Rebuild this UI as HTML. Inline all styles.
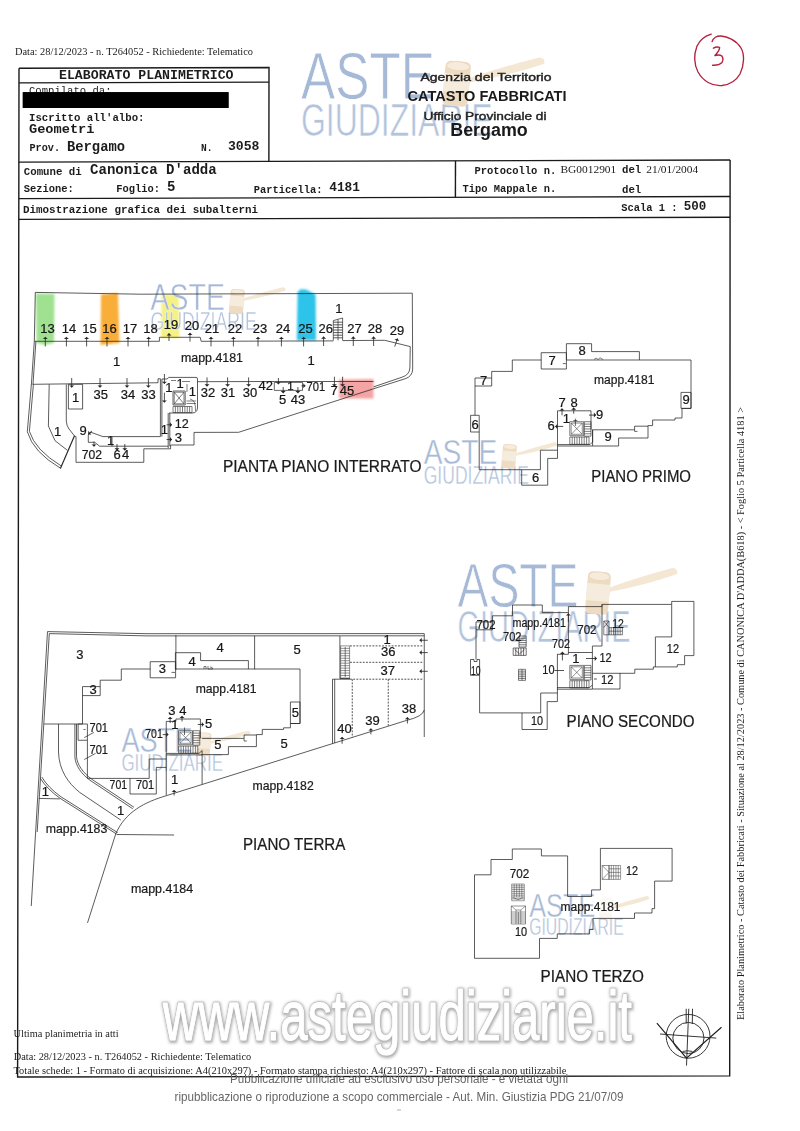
<!DOCTYPE html>
<html><head><meta charset="utf-8"><title>Elaborato Planimetrico</title>
<style>html,body{margin:0;padding:0;background:#fff;}body{width:800px;height:1131px;overflow:hidden;font-family:"Liberation Sans",sans-serif;}svg{display:block;}</style>
</head><body>
<svg width="800" height="1131" viewBox="0 0 800 1131">
<defs><filter id="blur1" x="-5%" y="-20%" width="110%" height="140%"><feGaussianBlur stdDeviation="1.6"/></filter><filter id="hl" x="-10%" y="-10%" width="120%" height="120%"><feGaussianBlur stdDeviation="0.9"/></filter></defs>
<rect x="0" y="0" width="800" height="1131" fill="#ffffff"/>
<g filter="url(#hl)">
<path d="M36 293.5 L54.5 294 L54 343 L45 345 L36.5 343 Z" fill="#8fdc7e" opacity="0.85"/>
<path d="M101 294.5 L118 293 L119.5 343 L100.5 345 Z" fill="#f7a524" opacity="0.9"/>
<path d="M161.5 295 L178.5 294 L179.5 338 L161 338 Z" fill="#f3ee6c" opacity="0.85"/>
<path d="M296.8 340.3 L297.6 292 L300.5 289.3 L306 289.6 L315.6 294.5 L316 340.3 Z" fill="#22c0e8" opacity="0.95"/>
<path d="M339 379.5 L373.5 379 L373.5 398.5 L339 398.5 Z" fill="#f39a9a" opacity="0.9"/>
</g>
<g>
<text x="301.00" y="99.00" font-family="'Liberation Sans', sans-serif" font-size="66.86" fill="#a6b9d6" stroke="#fff" stroke-width="0.80" textLength="134.00" lengthAdjust="spacingAndGlyphs">ASTE</text>
<text x="301.00" y="135.80" font-family="'Liberation Sans', sans-serif" font-size="46.80" fill="#b2c3dc" stroke="#fff" stroke-width="0.66" textLength="191.62" lengthAdjust="spacingAndGlyphs">GIUDIZIARIE</text>
<g transform="translate(301.00 53.00) scale(1.1074 1.0698)">
<path d="M150.5 28 L151.5 23.5 Q185 12 215 4.2 Q221 4.6 219.6 10 Q190 20.5 150.5 28 Z" fill="#f4e7d4"/>
<g transform="translate(140.5 28.75) rotate(5)" opacity="1.0">
<rect x="-11.5" y="-21" width="23" height="42" rx="5" fill="#eedcc2"/>
<rect x="-11.5" y="-9" width="23" height="17" fill="#f6ecdd"/>
<ellipse cx="0" cy="-16.5" rx="10.5" ry="4.2" fill="#f7ecdc" stroke="#ead7bc" stroke-width="0.8"/>
</g>
</g>
</g>
<g>
<text x="150.60" y="309.70" font-family="'Liberation Sans', sans-serif" font-size="36.34" fill="#a6b9d6" stroke="#fff" stroke-width="0.44" textLength="74.30" lengthAdjust="spacingAndGlyphs">ASTE</text>
<text x="150.60" y="329.70" font-family="'Liberation Sans', sans-serif" font-size="25.44" fill="#b2c3dc" stroke="#fff" stroke-width="0.36" textLength="106.25" lengthAdjust="spacingAndGlyphs">GIUDIZIARIE</text>
<g transform="translate(150.60 284.70) scale(0.6140 0.5814)">
<path d="M150.5 28 L151.5 23.5 Q185 12 215 4.2 Q221 4.6 219.6 10 Q190 20.5 150.5 28 Z" fill="#f4e7d4"/>
<g transform="translate(140.5 28.75) rotate(5)" opacity="1.0">
<rect x="-11.5" y="-21" width="23" height="42" rx="5" fill="#eedcc2"/>
<rect x="-11.5" y="-9" width="23" height="17" fill="#f6ecdd"/>
<ellipse cx="0" cy="-16.5" rx="10.5" ry="4.2" fill="#f7ecdc" stroke="#ead7bc" stroke-width="0.8"/>
</g>
</g>
</g>
<g>
<text x="423.75" y="464.40" font-family="'Liberation Sans', sans-serif" font-size="35.61" fill="#a6b9d6" stroke="#fff" stroke-width="0.43" textLength="73.50" lengthAdjust="spacingAndGlyphs">ASTE</text>
<text x="423.75" y="484.00" font-family="'Liberation Sans', sans-serif" font-size="24.93" fill="#b2c3dc" stroke="#fff" stroke-width="0.35" textLength="105.10" lengthAdjust="spacingAndGlyphs">GIUDIZIARIE</text>
<g transform="translate(423.75 439.90) scale(0.6074 0.5698)">
<path d="M150.5 28 L151.5 23.5 Q185 12 215 4.2 Q221 4.6 219.6 10 Q190 20.5 150.5 28 Z" fill="#f4e7d4"/>
<g transform="translate(140.5 28.75) rotate(5)" opacity="1.0">
<rect x="-11.5" y="-21" width="23" height="42" rx="5" fill="#eedcc2"/>
<rect x="-11.5" y="-9" width="23" height="17" fill="#f6ecdd"/>
<ellipse cx="0" cy="-16.5" rx="10.5" ry="4.2" fill="#f7ecdc" stroke="#ead7bc" stroke-width="0.8"/>
</g>
</g>
</g>
<g>
<text x="457.50" y="607.40" font-family="'Liberation Sans', sans-serif" font-size="63.37" fill="#a6b9d6" stroke="#fff" stroke-width="0.76" textLength="121.00" lengthAdjust="spacingAndGlyphs">ASTE</text>
<text x="457.50" y="642.28" font-family="'Liberation Sans', sans-serif" font-size="44.36" fill="#b2c3dc" stroke="#fff" stroke-width="0.62" textLength="173.03" lengthAdjust="spacingAndGlyphs">GIUDIZIARIE</text>
<g transform="translate(457.50 563.80) scale(1.0000 1.0140)">
<path d="M150.5 28 L151.5 23.5 Q185 12 215 4.2 Q221 4.6 219.6 10 Q190 20.5 150.5 28 Z" fill="#f4e7d4"/>
<g transform="translate(140.5 28.75) rotate(5)" opacity="1.0">
<rect x="-11.5" y="-21" width="23" height="42" rx="5" fill="#eedcc2"/>
<rect x="-11.5" y="-9" width="23" height="17" fill="#f6ecdd"/>
<ellipse cx="0" cy="-16.5" rx="10.5" ry="4.2" fill="#f7ecdc" stroke="#ead7bc" stroke-width="0.8"/>
</g>
</g>
</g>
<g>
<text x="121.40" y="752.00" font-family="'Liberation Sans', sans-serif" font-size="34.30" fill="#a6b9d6" stroke="#fff" stroke-width="0.41" textLength="71.00" lengthAdjust="spacingAndGlyphs">ASTE</text>
<text x="121.40" y="770.88" font-family="'Liberation Sans', sans-serif" font-size="24.01" fill="#b2c3dc" stroke="#fff" stroke-width="0.34" textLength="101.53" lengthAdjust="spacingAndGlyphs">GIUDIZIARIE</text>
<g transform="translate(121.40 728.40) scale(0.5868 0.5488)">
<path d="M150.5 28 L151.5 23.5 Q185 12 215 4.2 Q221 4.6 219.6 10 Q190 20.5 150.5 28 Z" fill="#f4e7d4"/>
<g transform="translate(140.5 28.75) rotate(5)" opacity="1.0">
<rect x="-11.5" y="-21" width="23" height="42" rx="5" fill="#eedcc2"/>
<rect x="-11.5" y="-9" width="23" height="17" fill="#f6ecdd"/>
<ellipse cx="0" cy="-16.5" rx="10.5" ry="4.2" fill="#f7ecdc" stroke="#ead7bc" stroke-width="0.8"/>
</g>
</g>
</g>
<g>
<text x="529.25" y="916.80" font-family="'Liberation Sans', sans-serif" font-size="33.43" fill="#a6b9d6" stroke="#fff" stroke-width="0.40" textLength="66.00" lengthAdjust="spacingAndGlyphs">ASTE</text>
<text x="529.25" y="935.20" font-family="'Liberation Sans', sans-serif" font-size="23.40" fill="#b2c3dc" stroke="#fff" stroke-width="0.33" textLength="94.38" lengthAdjust="spacingAndGlyphs">GIUDIZIARIE</text>
<g transform="translate(529.25 893.80) scale(0.5455 0.5349)">
<path d="M150.5 28 L151.5 23.5 Q185 12 215 4.2 Q221 4.6 219.6 10 Q190 20.5 150.5 28 Z" fill="#f4e7d4"/>
<g transform="translate(140.5 28.75) rotate(5)" opacity="0.25">
<rect x="-11.5" y="-21" width="23" height="42" rx="5" fill="#eedcc2"/>
<rect x="-11.5" y="-9" width="23" height="17" fill="#f6ecdd"/>
<ellipse cx="0" cy="-16.5" rx="10.5" ry="4.2" fill="#f7ecdc" stroke="#ead7bc" stroke-width="0.8"/>
</g>
</g>
</g>
<g font-family="'Liberation Sans', sans-serif" font-size="70">
<text x="163.6" y="1040.6" textLength="469" lengthAdjust="spacingAndGlyphs" fill="#858585" stroke="#858585" stroke-width="4" filter="url(#blur1)" opacity="0.7">www.astegiudiziarie.it</text>
<text x="163" y="1039.6" textLength="469" lengthAdjust="spacingAndGlyphs" fill="#bdbdbd" stroke="#bdbdbd" stroke-width="2.4" stroke-linejoin="round">www.astegiudiziarie.it</text>
<text x="163" y="1039.6" textLength="469" lengthAdjust="spacingAndGlyphs" fill="#ffffff" stroke="#ffffff" stroke-width="1.0" stroke-linejoin="round">www.astegiudiziarie.it</text>
</g>
<path d="M19.00 68.20 L269.00 67.46 L268.88 161.36" fill="none" stroke="#1a1a1a" stroke-width="1.4" />
<line x1="19.00" y1="82.90" x2="269.00" y2="82.16" stroke="#1a1a1a" stroke-width="1.4" />
<line x1="18.88" y1="162.10" x2="730.10" y2="160.00" stroke="#1a1a1a" stroke-width="1.4" />
<line x1="18.83" y1="198.60" x2="730.10" y2="196.50" stroke="#1a1a1a" stroke-width="1.4" />
<line x1="18.80" y1="219.40" x2="730.10" y2="217.30" stroke="#1a1a1a" stroke-width="1.4" />
<line x1="455.50" y1="160.81" x2="455.40" y2="197.31" stroke="#1a1a1a" stroke-width="1.4" />
<path d="M19.00 68.20 L17.60 1077.00 L729.70 1075.90 L730.10 160.00" fill="none" stroke="#1a1a1a" stroke-width="1.4" />
<rect x="22.8" y="92.2" width="205.7" height="15.8" fill="#000"/>
<text x="59.00" y="79.00" font-family="'Liberation Mono', monospace" font-size="13.2" font-weight="bold" text-anchor="start" fill="#1c1c1c" textLength="174.50" lengthAdjust="spacingAndGlyphs" >ELABORATO PLANIMETRICO</text>
<text x="29.00" y="93.50" font-family="'Liberation Mono', monospace" font-size="10.6" font-weight="normal" text-anchor="start" fill="#1c1c1c" textLength="82.50" lengthAdjust="spacingAndGlyphs" >Compilato da:</text>
<rect x="22.8" y="92.2" width="205.7" height="15.8" fill="#000"/>
<text x="29.00" y="120.50" font-family="'Liberation Mono', monospace" font-size="10.7" font-weight="bold" text-anchor="start" fill="#1c1c1c" textLength="115.50" lengthAdjust="spacingAndGlyphs" >Iscritto all'albo:</text>
<text x="29.00" y="132.80" font-family="'Liberation Mono', monospace" font-size="13.6" font-weight="bold" text-anchor="start" fill="#1c1c1c" textLength="65.50" lengthAdjust="spacingAndGlyphs" >Geometri</text>
<text x="29.50" y="151.00" font-family="'Liberation Mono', monospace" font-size="10.4" font-weight="bold" text-anchor="start" fill="#1c1c1c" textLength="30.50" lengthAdjust="spacingAndGlyphs" >Prov.</text>
<text x="67.00" y="151.00" font-family="'Liberation Mono', monospace" font-size="13.8" font-weight="bold" text-anchor="start" fill="#1c1c1c" textLength="58.00" lengthAdjust="spacingAndGlyphs" >Bergamo</text>
<text x="201.00" y="151.00" font-family="'Liberation Mono', monospace" font-size="10.4" font-weight="bold" text-anchor="start" fill="#1c1c1c" textLength="11.50" lengthAdjust="spacingAndGlyphs" >N.</text>
<text x="228.00" y="150.00" font-family="'Liberation Mono', monospace" font-size="13.2" font-weight="bold" text-anchor="start" fill="#1c1c1c" textLength="31.50" lengthAdjust="spacingAndGlyphs" >3058</text>
<text x="23.75" y="175.00" font-family="'Liberation Mono', monospace" font-size="10.7" font-weight="bold" text-anchor="start" fill="#1c1c1c" textLength="58.00" lengthAdjust="spacingAndGlyphs" >Comune di</text>
<text x="90.00" y="173.75" font-family="'Liberation Mono', monospace" font-size="14" font-weight="bold" text-anchor="start" fill="#1c1c1c" textLength="126.75" lengthAdjust="spacingAndGlyphs" >Canonica D'adda</text>
<text x="23.75" y="192.00" font-family="'Liberation Mono', monospace" font-size="10.4" font-weight="bold" text-anchor="start" fill="#1c1c1c" textLength="50.00" lengthAdjust="spacingAndGlyphs" >Sezione:</text>
<text x="116.25" y="192.00" font-family="'Liberation Mono', monospace" font-size="10.4" font-weight="bold" text-anchor="start" fill="#1c1c1c" textLength="43.75" lengthAdjust="spacingAndGlyphs" >Foglio:</text>
<text x="167.00" y="191.00" font-family="'Liberation Mono', monospace" font-size="14" font-weight="bold" text-anchor="start" fill="#1c1c1c" >5</text>
<text x="253.75" y="192.50" font-family="'Liberation Mono', monospace" font-size="10.4" font-weight="bold" text-anchor="start" fill="#1c1c1c" textLength="68.75" lengthAdjust="spacingAndGlyphs" >Particella:</text>
<text x="329.25" y="191.00" font-family="'Liberation Mono', monospace" font-size="13" font-weight="bold" text-anchor="start" fill="#1c1c1c" textLength="30.75" lengthAdjust="spacingAndGlyphs" >4181</text>
<text x="23.00" y="213.00" font-family="'Liberation Mono', monospace" font-size="10.9" font-weight="bold" text-anchor="start" fill="#1c1c1c" textLength="235.00" lengthAdjust="spacingAndGlyphs" >Dimostrazione grafica dei subalterni</text>
<text x="474.50" y="173.75" font-family="'Liberation Mono', monospace" font-size="10.5" font-weight="bold" text-anchor="start" fill="#1c1c1c" textLength="81.75" lengthAdjust="spacingAndGlyphs" >Protocollo n.</text>
<text x="560.50" y="172.50" font-family="'Liberation Serif', serif" font-size="11.4" font-weight="normal" text-anchor="start" fill="#1c1c1c" textLength="55.75" lengthAdjust="spacingAndGlyphs" >BG0012901</text>
<text x="622.00" y="173.00" font-family="'Liberation Mono', monospace" font-size="10.7" font-weight="bold" text-anchor="start" fill="#1c1c1c" textLength="19.25" lengthAdjust="spacingAndGlyphs" >del</text>
<text x="646.25" y="172.50" font-family="'Liberation Serif', serif" font-size="11.4" font-weight="normal" text-anchor="start" fill="#1c1c1c" textLength="52.00" lengthAdjust="spacingAndGlyphs" >21/01/2004</text>
<text x="462.50" y="192.00" font-family="'Liberation Mono', monospace" font-size="10.4" font-weight="bold" text-anchor="start" fill="#1c1c1c" textLength="93.75" lengthAdjust="spacingAndGlyphs" >Tipo Mappale n.</text>
<text x="622.00" y="193.00" font-family="'Liberation Mono', monospace" font-size="10.7" font-weight="bold" text-anchor="start" fill="#1c1c1c" textLength="19.25" lengthAdjust="spacingAndGlyphs" >del</text>
<text x="621.25" y="211.25" font-family="'Liberation Mono', monospace" font-size="10.4" font-weight="bold" text-anchor="start" fill="#1c1c1c" textLength="56.25" lengthAdjust="spacingAndGlyphs" >Scala 1 :</text>
<text x="683.75" y="210.00" font-family="'Liberation Mono', monospace" font-size="12.5" font-weight="bold" text-anchor="start" fill="#1c1c1c" textLength="22.50" lengthAdjust="spacingAndGlyphs" >500</text>
<text x="486.00" y="81.20" font-family="'Liberation Sans', sans-serif" font-size="11.2" font-weight="normal" text-anchor="middle" fill="#222" textLength="131.00" lengthAdjust="spacingAndGlyphs" stroke="#222" stroke-width="0.4">Agenzia del Territorio</text>
<text x="487.00" y="101.00" font-family="'Liberation Sans', sans-serif" font-size="14.2" font-weight="bold" text-anchor="middle" fill="#1a1a1a" textLength="159.00" lengthAdjust="spacingAndGlyphs" >CATASTO FABBRICATI</text>
<text x="485.00" y="120.00" font-family="'Liberation Sans', sans-serif" font-size="11.2" font-weight="normal" text-anchor="middle" fill="#222" textLength="123.00" lengthAdjust="spacingAndGlyphs" stroke="#222" stroke-width="0.4">Ufficio Provinciale di</text>
<text x="489.00" y="136.20" font-family="'Liberation Sans', sans-serif" font-size="18" font-weight="bold" text-anchor="middle" fill="#1a1a1a" textLength="77.50" lengthAdjust="spacingAndGlyphs" >Bergamo</text>
<text x="15.00" y="55.00" font-family="'Liberation Serif', serif" font-size="10.5" font-weight="normal" text-anchor="start" fill="#1c1c1c" textLength="238.00" lengthAdjust="spacingAndGlyphs" >Data: 28/12/2023 - n. T264052 - Richiedente: Telematico</text>
<g fill="none" stroke="#b3213f" stroke-linecap="round" stroke-linejoin="round">
<path d="M712.1 41.6 C713 38, 717 35.6, 721 36 C727 36.5, 736 40, 741 48 C744.5 54, 744.6 64, 740 74 C736 81, 730 84.6, 722 85.5 C712 86.4, 703 81, 698 72 C694 64, 694 54, 697 46 C700 40, 705 36, 711.25 34.2" stroke-width="1.35"/>
<path d="M713.4 48.2 Q716.5 46.4 719.6 47.3 Q719.8 50.5 714.9 55.6 Q719.5 54.2 721.8 56 Q724 59 722 62.5 Q719 65.5 712.6 65.2" stroke-width="1.4"/>
</g>
<text x="13.60" y="1036.70" font-family="'Liberation Serif', serif" font-size="10.5" font-weight="normal" text-anchor="start" fill="#1c1c1c" textLength="105.00" lengthAdjust="spacingAndGlyphs" >Ultima planimetria in atti</text>
<text x="13.70" y="1059.60" font-family="'Liberation Serif', serif" font-size="10.5" font-weight="normal" text-anchor="start" fill="#1c1c1c" textLength="237.50" lengthAdjust="spacingAndGlyphs" >Data: 28/12/2023 - n. T264052 - Richiedente: Telematico</text>
<text x="13.40" y="1074.00" font-family="'Liberation Serif', serif" font-size="10.5" font-weight="normal" text-anchor="start" fill="#1c1c1c" textLength="553.00" lengthAdjust="spacingAndGlyphs" >Totale schede: 1 - Formato di acquisizione: A4(210x297) - Formato stampa richiesto: A4(210x297) - Fattore di scala non utilizzabile</text>
<text x="399.00" y="1083.00" font-family="'Liberation Sans', sans-serif" font-size="13" font-weight="normal" text-anchor="middle" fill="#666" textLength="338.00" lengthAdjust="spacingAndGlyphs" >Pubblicazione ufficiale ad esclusivo uso personale - è vietata ogni</text>
<text x="399.00" y="1100.50" font-family="'Liberation Sans', sans-serif" font-size="13" font-weight="normal" text-anchor="middle" fill="#666" textLength="449.00" lengthAdjust="spacingAndGlyphs" >ripubblicazione o riproduzione a scopo commerciale - Aut. Min. Giustizia PDG 21/07/09</text>
<line x1="397.00" y1="1110.00" x2="401.00" y2="1110.00" stroke="#999" stroke-width="0.8" />
<g transform="translate(743.5 1020) rotate(-90)">
<text x="0.00" y="0.00" font-family="'Liberation Serif', serif" font-size="10.5" font-weight="normal" text-anchor="start" fill="#1c1c1c" textLength="613.00" lengthAdjust="spacingAndGlyphs" >Elaborato Planimetrico - Catasto dei Fabbricati - Situazione al 28/12/2023 - Comune di CANONICA D'ADDA(B618) - &lt; Foglio 5 Particella 4181 &gt;</text>
</g>
<g fill="none" stroke="#222" stroke-width="0.9">
<circle cx="688.1" cy="1036.3" r="21.9"/>
<circle cx="688.4" cy="1038" r="15.6"/>
<path d="M656.9 1023.1 L686.5 1058.1 L721.5 1027.25" stroke-width="1.2"/>
<path d="M688.75 1008.75 L686.5 1065.6"/>
<path d="M686.2 1008.75 L686.2 1023.5 M692.5 1008.75 L692.3 1024"/>
<path d="M660 1034 L716.25 1038.1"/>
<path d="M682.5 1051.5 Q687.5 1050 692.5 1051.5"/>
</g>
<g id="interrato">
<path d="M31.40 384.30 L34.30 341.30 L35.30 292.40 L140.00 294.20 L412.30 293.20 L412.70 369.00" fill="none" stroke="#262626" stroke-width="0.75" />
<path d="M33.00 384.30 L35.90 341.30" fill="none" stroke="#262626" stroke-width="0.75" />
<path d="M412.7 369 Q412.5 376.5 405 378.8 L373.5 388.8 L238.6 432.3 L194 432.4 L194 445 L170.6 445 L170.6 448.8 L143.8 448.8 L143.8 462.3 L76 462.3 L76 436.6 L74.4 435.8" fill="none" stroke="#262626" stroke-width="0.75" />
<path d="M410.25 346.6 L409.9 368 Q409.5 374.8 402 377.2 L373.5 386.9" fill="none" stroke="#262626" stroke-width="0.75" />
<path d="M34.30 341.30 L159.40 341.30 L159.40 337.30 L200.20 337.30 L201.20 341.30 L333.30 340.90" fill="none" stroke="#262626" stroke-width="0.75" />
<path d="M342.60 340.60 L384.75 340.30 L410.25 346.60" fill="none" stroke="#262626" stroke-width="0.75" />
<path d="M333.30 340.60 L333.30 320.60 L342.60 318.00 L342.60 340.40" fill="none" stroke="#262626" stroke-width="0.7" />
<line x1="333.30" y1="337.80" x2="342.60" y2="337.80" stroke="#262626" stroke-width="0.75" />
<line x1="333.30" y1="335.20" x2="342.60" y2="335.20" stroke="#262626" stroke-width="0.75" />
<line x1="333.30" y1="332.60" x2="342.60" y2="332.60" stroke="#262626" stroke-width="0.75" />
<line x1="333.30" y1="330.00" x2="342.60" y2="330.00" stroke="#262626" stroke-width="0.75" />
<line x1="333.30" y1="327.40" x2="342.60" y2="327.40" stroke="#262626" stroke-width="0.75" />
<line x1="333.30" y1="324.80" x2="342.60" y2="324.80" stroke="#262626" stroke-width="0.75" />
<line x1="333.30" y1="322.20" x2="342.60" y2="322.20" stroke="#262626" stroke-width="0.75" />
<line x1="338.00" y1="319.50" x2="338.00" y2="340.40" stroke="#262626" stroke-width="0.7" />
<path d="M31.4 384 L27.3 431.7 Q33 452 60.6 468.3" fill="none" stroke="#262626" stroke-width="0.75" />
<line x1="60.40" y1="468.60" x2="74.50" y2="435.80" stroke="#262626" stroke-width="1.15" />
<path d="M33.4 384.3 L29.4 431.3 Q35 450 61.6 466.2" fill="none" stroke="#262626" stroke-width="0.75" />
<path d="M49.2 384.3 L48.4 426 L55 440.7 L67.5 450.4" fill="none" stroke="#262626" stroke-width="0.75" />
<path d="M66.3 384.3 L66.3 421 Q66.5 425.5 69 429 L74.4 435.8" fill="none" stroke="#262626" stroke-width="0.75" />
<path d="M32.50 384.30 L158.00 382.75 L158.00 378.80 L160.40 378.80" fill="none" stroke="#262626" stroke-width="0.75" />
<line x1="160.40" y1="378.80" x2="160.40" y2="436.60" stroke="#262626" stroke-width="0.75" />
<line x1="161.90" y1="379.00" x2="161.90" y2="436.60" stroke="#262626" stroke-width="0.75" />
<path d="M68.40 384.30 L82.60 384.30 L82.60 409.00 L68.40 409.00 Z" fill="none" stroke="#262626" stroke-width="0.75" />
<path d="M161.9 379 L167 379 L168.8 377.4 L196 377.4 Q197.5 377.3 197.5 379 L197.5 408 Q197 413 192 413 L169 413" fill="none" stroke="#262626" stroke-width="0.75" />
<line x1="168.20" y1="413.00" x2="168.20" y2="448.00" stroke="#262626" stroke-width="0.75" />
<line x1="169.80" y1="413.00" x2="169.80" y2="446.40" stroke="#262626" stroke-width="0.75" />
<path d="M173.00 391.00 L185.20 391.00 L185.20 405.00 L173.00 405.00 Z" fill="none" stroke="#262626" stroke-width="0.7" />
<path d="M174.20 392.20 L184.00 392.20 L184.00 403.80 L174.20 403.80 Z" fill="none" stroke="#262626" stroke-width="0.6" />
<line x1="174.20" y1="392.20" x2="184.00" y2="403.80" stroke="#262626" stroke-width="0.6" />
<line x1="184.00" y1="392.20" x2="174.20" y2="403.80" stroke="#262626" stroke-width="0.6" />
<path d="M173.00 406.50 L192.00 406.50 L192.00 412.60 L173.00 412.60 Z" fill="none" stroke="#262626" stroke-width="0.6" />
<line x1="175.38" y1="406.50" x2="175.38" y2="412.60" stroke="#262626" stroke-width="0.6" />
<line x1="177.75" y1="406.50" x2="177.75" y2="412.60" stroke="#262626" stroke-width="0.6" />
<line x1="180.12" y1="406.50" x2="180.12" y2="412.60" stroke="#262626" stroke-width="0.6" />
<line x1="182.50" y1="406.50" x2="182.50" y2="412.60" stroke="#262626" stroke-width="0.6" />
<line x1="184.88" y1="406.50" x2="184.88" y2="412.60" stroke="#262626" stroke-width="0.6" />
<line x1="187.25" y1="406.50" x2="187.25" y2="412.60" stroke="#262626" stroke-width="0.6" />
<line x1="189.62" y1="406.50" x2="189.62" y2="412.60" stroke="#262626" stroke-width="0.6" />
<path d="M186.5 401 L196 401 M186.5 403.5 L196 403.5 M190 399 Q196 400 195.5 411" fill="none" stroke="#262626" stroke-width="0.6" />
<line x1="171.00" y1="380.50" x2="176.00" y2="380.50" stroke="#262626" stroke-width="0.6" />
<line x1="182.00" y1="381.50" x2="190.00" y2="381.50" stroke="#262626" stroke-width="0.6" />
<line x1="187.00" y1="384.00" x2="187.00" y2="392.00" stroke="#262626" stroke-width="0.6" />
<path d="M197.50 381.70 L274.40 381.50 L373.50 381.50" fill="none" stroke="#262626" stroke-width="0.75" />
<path d="M274.30 382.40 L302.50 382.40 L302.50 390.40 L274.30 390.40 Z" fill="none" stroke="#262626" stroke-width="0.7" />
<path d="M88.30 435.00 L90.70 432.20 L102.90 436.60 L160.40 436.60" fill="none" stroke="#262626" stroke-width="0.75" />
<path d="M90.70 432.20 L88.30 435.00 L88.30 442.30 L94.70 442.30 L99.60 446.20 L168.20 446.20" fill="none" stroke="#262626" stroke-width="0.75" />
<line x1="112.00" y1="436.60" x2="112.00" y2="446.20" stroke="#262626" stroke-width="0.75" />
<text x="47.40" y="333.30" font-family="'Liberation Sans', sans-serif" font-size="13.00" fill="#161616" stroke="#161616" stroke-width="0.22" text-anchor="middle">13</text>
<text x="69.00" y="333.30" font-family="'Liberation Sans', sans-serif" font-size="13.00" fill="#161616" stroke="#161616" stroke-width="0.22" text-anchor="middle">14</text>
<text x="89.40" y="333.30" font-family="'Liberation Sans', sans-serif" font-size="13.00" fill="#161616" stroke="#161616" stroke-width="0.22" text-anchor="middle">15</text>
<text x="109.60" y="333.30" font-family="'Liberation Sans', sans-serif" font-size="13.00" fill="#161616" stroke="#161616" stroke-width="0.22" text-anchor="middle">16</text>
<text x="130.00" y="333.30" font-family="'Liberation Sans', sans-serif" font-size="13.00" fill="#161616" stroke="#161616" stroke-width="0.22" text-anchor="middle">17</text>
<text x="150.40" y="333.30" font-family="'Liberation Sans', sans-serif" font-size="13.00" fill="#161616" stroke="#161616" stroke-width="0.22" text-anchor="middle">18</text>
<text x="171.00" y="329.00" font-family="'Liberation Sans', sans-serif" font-size="13.00" fill="#161616" stroke="#161616" stroke-width="0.22" text-anchor="middle">19</text>
<text x="192.00" y="330.00" font-family="'Liberation Sans', sans-serif" font-size="13.00" fill="#161616" stroke="#161616" stroke-width="0.22" text-anchor="middle">20</text>
<text x="212.00" y="333.30" font-family="'Liberation Sans', sans-serif" font-size="13.00" fill="#161616" stroke="#161616" stroke-width="0.22" text-anchor="middle">21</text>
<text x="235.00" y="333.30" font-family="'Liberation Sans', sans-serif" font-size="13.00" fill="#161616" stroke="#161616" stroke-width="0.22" text-anchor="middle">22</text>
<text x="260.00" y="333.30" font-family="'Liberation Sans', sans-serif" font-size="13.00" fill="#161616" stroke="#161616" stroke-width="0.22" text-anchor="middle">23</text>
<text x="283.00" y="333.30" font-family="'Liberation Sans', sans-serif" font-size="13.00" fill="#161616" stroke="#161616" stroke-width="0.22" text-anchor="middle">24</text>
<text x="305.50" y="333.30" font-family="'Liberation Sans', sans-serif" font-size="13.00" fill="#161616" stroke="#161616" stroke-width="0.22" text-anchor="middle">25</text>
<text x="325.70" y="333.30" font-family="'Liberation Sans', sans-serif" font-size="13.00" fill="#161616" stroke="#161616" stroke-width="0.22" text-anchor="middle">26</text>
<text x="354.40" y="333.30" font-family="'Liberation Sans', sans-serif" font-size="13.00" fill="#161616" stroke="#161616" stroke-width="0.22" text-anchor="middle">27</text>
<text x="375.00" y="333.30" font-family="'Liberation Sans', sans-serif" font-size="13.00" fill="#161616" stroke="#161616" stroke-width="0.22" text-anchor="middle">28</text>
<text x="397.00" y="335.40" font-family="'Liberation Sans', sans-serif" font-size="13.00" fill="#161616" stroke="#161616" stroke-width="0.22" text-anchor="middle">29</text>
<line x1="45.30" y1="346.40" x2="45.30" y2="336.90" stroke="#262626" stroke-width="0.8" />
<polygon points="45.30,336.90 47.80,339.00 42.80,339.00" fill="#262626"/>
<line x1="66.40" y1="346.40" x2="66.40" y2="336.90" stroke="#262626" stroke-width="0.8" />
<polygon points="66.40,336.90 68.90,339.00 63.90,339.00" fill="#262626"/>
<line x1="86.60" y1="346.40" x2="86.60" y2="336.90" stroke="#262626" stroke-width="0.8" />
<polygon points="86.60,336.90 89.10,339.00 84.10,339.00" fill="#262626"/>
<line x1="107.00" y1="346.40" x2="107.00" y2="336.90" stroke="#262626" stroke-width="0.8" />
<polygon points="107.00,336.90 109.50,339.00 104.50,339.00" fill="#262626"/>
<line x1="128.00" y1="346.40" x2="128.00" y2="336.90" stroke="#262626" stroke-width="0.8" />
<polygon points="128.00,336.90 130.50,339.00 125.50,339.00" fill="#262626"/>
<line x1="148.60" y1="346.40" x2="148.60" y2="336.90" stroke="#262626" stroke-width="0.8" />
<polygon points="148.60,336.90 151.10,339.00 146.10,339.00" fill="#262626"/>
<line x1="169.00" y1="341.00" x2="169.00" y2="333.30" stroke="#262626" stroke-width="0.8" />
<polygon points="169.00,333.30 171.50,335.40 166.50,335.40" fill="#262626"/>
<line x1="190.00" y1="341.60" x2="190.00" y2="332.80" stroke="#262626" stroke-width="0.8" />
<polygon points="190.00,332.80 192.50,334.90 187.50,334.90" fill="#262626"/>
<line x1="211.00" y1="346.40" x2="211.00" y2="336.90" stroke="#262626" stroke-width="0.8" />
<polygon points="211.00,336.90 213.50,339.00 208.50,339.00" fill="#262626"/>
<line x1="233.40" y1="346.40" x2="233.40" y2="336.90" stroke="#262626" stroke-width="0.8" />
<polygon points="233.40,336.90 235.90,339.00 230.90,339.00" fill="#262626"/>
<line x1="258.00" y1="346.40" x2="258.00" y2="336.90" stroke="#262626" stroke-width="0.8" />
<polygon points="258.00,336.90 260.50,339.00 255.50,339.00" fill="#262626"/>
<line x1="281.40" y1="346.40" x2="281.40" y2="336.90" stroke="#262626" stroke-width="0.8" />
<polygon points="281.40,336.90 283.90,339.00 278.90,339.00" fill="#262626"/>
<line x1="303.60" y1="346.40" x2="303.60" y2="336.90" stroke="#262626" stroke-width="0.8" />
<polygon points="303.60,336.90 306.10,339.00 301.10,339.00" fill="#262626"/>
<line x1="323.60" y1="346.00" x2="323.60" y2="336.60" stroke="#262626" stroke-width="0.8" />
<polygon points="323.60,336.60 326.10,338.70 321.10,338.70" fill="#262626"/>
<line x1="353.30" y1="346.00" x2="353.30" y2="336.60" stroke="#262626" stroke-width="0.8" />
<polygon points="353.30,336.60 355.80,338.70 350.80,338.70" fill="#262626"/>
<line x1="373.60" y1="346.00" x2="373.60" y2="336.60" stroke="#262626" stroke-width="0.8" />
<polygon points="373.60,336.60 376.10,338.70 371.10,338.70" fill="#262626"/>
<line x1="394.70" y1="346.60" x2="397.50" y2="338.50" stroke="#262626" stroke-width="0.8" />
<polygon points="397.50,338.50 399.18,341.30 394.45,339.67" fill="#262626"/>
<text x="338.80" y="313.20" font-family="'Liberation Sans', sans-serif" font-size="13.00" fill="#161616" stroke="#161616" stroke-width="0.22" text-anchor="middle">1</text>
<text x="116.60" y="366.00" font-family="'Liberation Sans', sans-serif" font-size="13.00" fill="#161616" stroke="#161616" stroke-width="0.22" text-anchor="middle">1</text>
<text x="311.00" y="365.30" font-family="'Liberation Sans', sans-serif" font-size="13.00" fill="#161616" stroke="#161616" stroke-width="0.22" text-anchor="middle">1</text>
<text x="181.00" y="362.00" font-family="'Liberation Sans', sans-serif" font-size="12.6" font-weight="normal" text-anchor="start" fill="#1c1c1c" textLength="62.00" lengthAdjust="spacingAndGlyphs" stroke="#161616" stroke-width="0.22">mapp.4181</text>
<text x="100.80" y="398.60" font-family="'Liberation Sans', sans-serif" font-size="13.00" fill="#161616" stroke="#161616" stroke-width="0.22" text-anchor="middle">35</text>
<text x="128.00" y="398.60" font-family="'Liberation Sans', sans-serif" font-size="13.00" fill="#161616" stroke="#161616" stroke-width="0.22" text-anchor="middle">34</text>
<text x="148.50" y="398.60" font-family="'Liberation Sans', sans-serif" font-size="13.00" fill="#161616" stroke="#161616" stroke-width="0.22" text-anchor="middle">33</text>
<text x="208.00" y="396.80" font-family="'Liberation Sans', sans-serif" font-size="13.00" fill="#161616" stroke="#161616" stroke-width="0.22" text-anchor="middle">32</text>
<text x="228.00" y="396.80" font-family="'Liberation Sans', sans-serif" font-size="13.00" fill="#161616" stroke="#161616" stroke-width="0.22" text-anchor="middle">31</text>
<text x="250.00" y="396.80" font-family="'Liberation Sans', sans-serif" font-size="13.00" fill="#161616" stroke="#161616" stroke-width="0.22" text-anchor="middle">30</text>
<line x1="71.70" y1="378.00" x2="71.70" y2="387.50" stroke="#262626" stroke-width="0.8" />
<polygon points="71.70,387.50 69.20,385.40 74.20,385.40" fill="#262626"/>
<line x1="100.00" y1="378.00" x2="100.00" y2="387.50" stroke="#262626" stroke-width="0.8" />
<polygon points="100.00,387.50 97.50,385.40 102.50,385.40" fill="#262626"/>
<line x1="127.00" y1="378.00" x2="127.00" y2="387.50" stroke="#262626" stroke-width="0.8" />
<polygon points="127.00,387.50 124.50,385.40 129.50,385.40" fill="#262626"/>
<line x1="148.40" y1="378.00" x2="148.40" y2="387.50" stroke="#262626" stroke-width="0.8" />
<polygon points="148.40,387.50 145.90,385.40 150.90,385.40" fill="#262626"/>
<line x1="207.00" y1="377.40" x2="207.00" y2="386.40" stroke="#262626" stroke-width="0.8" />
<polygon points="207.00,386.40 204.50,384.30 209.50,384.30" fill="#262626"/>
<line x1="227.60" y1="377.40" x2="227.60" y2="386.40" stroke="#262626" stroke-width="0.8" />
<polygon points="227.60,386.40 225.10,384.30 230.10,384.30" fill="#262626"/>
<line x1="248.60" y1="377.40" x2="248.60" y2="386.40" stroke="#262626" stroke-width="0.8" />
<polygon points="248.60,386.40 246.10,384.30 251.10,384.30" fill="#262626"/>
<text x="75.60" y="401.70" font-family="'Liberation Sans', sans-serif" font-size="13.00" fill="#161616" stroke="#161616" stroke-width="0.22" text-anchor="middle">1</text>
<text x="265.80" y="389.80" font-family="'Liberation Sans', sans-serif" font-size="13.00" fill="#161616" stroke="#161616" stroke-width="0.22" text-anchor="middle">42</text>
<text x="290.50" y="390.40" font-family="'Liberation Sans', sans-serif" font-size="11.50" fill="#161616" stroke="#161616" stroke-width="0.22" text-anchor="middle">1</text>
<text x="306.50" y="390.50" font-family="'Liberation Sans', sans-serif" font-size="12.6" font-weight="normal" text-anchor="start" fill="#1c1c1c" textLength="18.60" lengthAdjust="spacingAndGlyphs" stroke="#161616" stroke-width="0.22">701</text>
<text x="282.60" y="403.50" font-family="'Liberation Sans', sans-serif" font-size="13.00" fill="#161616" stroke="#161616" stroke-width="0.22" text-anchor="middle">5</text>
<text x="298.00" y="403.50" font-family="'Liberation Sans', sans-serif" font-size="13.00" fill="#161616" stroke="#161616" stroke-width="0.22" text-anchor="middle">43</text>
<line x1="278.40" y1="378.00" x2="278.40" y2="384.30" stroke="#262626" stroke-width="0.8" />
<polygon points="278.40,384.30 275.90,382.20 280.90,382.20" fill="#262626"/>
<line x1="283.20" y1="387.00" x2="283.20" y2="393.20" stroke="#262626" stroke-width="0.8" />
<polygon points="283.20,393.20 280.70,391.10 285.70,391.10" fill="#262626"/>
<line x1="297.90" y1="387.00" x2="297.90" y2="393.20" stroke="#262626" stroke-width="0.8" />
<polygon points="297.90,393.20 295.40,391.10 300.40,391.10" fill="#262626"/>
<line x1="301.50" y1="385.80" x2="305.40" y2="385.80" stroke="#262626" stroke-width="0.8" />
<polygon points="305.40,385.80 303.30,388.30 303.30,383.30" fill="#262626"/>
<text x="334.00" y="394.60" font-family="'Liberation Sans', sans-serif" font-size="13.00" fill="#161616" stroke="#161616" stroke-width="0.22" text-anchor="middle">7</text>
<text x="347.00" y="394.60" font-family="'Liberation Sans', sans-serif" font-size="13.00" fill="#161616" stroke="#161616" stroke-width="0.22" text-anchor="middle">45</text>
<line x1="334.40" y1="376.70" x2="334.40" y2="386.40" stroke="#262626" stroke-width="0.8" />
<polygon points="334.40,386.40 331.90,384.30 336.90,384.30" fill="#262626"/>
<line x1="342.60" y1="376.70" x2="342.60" y2="386.40" stroke="#262626" stroke-width="0.8" />
<polygon points="342.60,386.40 340.10,384.30 345.10,384.30" fill="#262626"/>
<text x="168.80" y="392.40" font-family="'Liberation Sans', sans-serif" font-size="13.00" fill="#161616" stroke="#161616" stroke-width="0.22" text-anchor="middle">1</text>
<text x="180.20" y="388.20" font-family="'Liberation Sans', sans-serif" font-size="13.00" fill="#161616" stroke="#161616" stroke-width="0.22" text-anchor="middle">1</text>
<text x="192.40" y="396.00" font-family="'Liberation Sans', sans-serif" font-size="13.00" fill="#161616" stroke="#161616" stroke-width="0.22" text-anchor="middle">1</text>
<line x1="164.40" y1="374.00" x2="164.40" y2="383.80" stroke="#262626" stroke-width="0.8" />
<polygon points="164.40,383.80 161.90,381.70 166.90,381.70" fill="#262626"/>
<line x1="164.40" y1="392.70" x2="164.40" y2="402.50" stroke="#262626" stroke-width="0.8" />
<polygon points="164.40,402.50 161.90,400.40 166.90,400.40" fill="#262626"/>
<text x="174.70" y="428.20" font-family="'Liberation Sans', sans-serif" font-size="12.6" font-weight="normal" text-anchor="start" fill="#1c1c1c" stroke="#161616" stroke-width="0.22">12</text>
<line x1="166.60" y1="424.80" x2="172.00" y2="424.80" stroke="#262626" stroke-width="0.8" />
<polygon points="172.00,424.80 169.90,427.30 169.90,422.30" fill="#262626"/>
<text x="164.40" y="434.00" font-family="'Liberation Sans', sans-serif" font-size="13.00" fill="#161616" stroke="#161616" stroke-width="0.22" text-anchor="middle">1</text>
<text x="178.40" y="442.30" font-family="'Liberation Sans', sans-serif" font-size="13.00" fill="#161616" stroke="#161616" stroke-width="0.22" text-anchor="middle">3</text>
<line x1="166.60" y1="439.50" x2="172.00" y2="439.50" stroke="#262626" stroke-width="0.8" />
<polygon points="172.00,439.50 169.90,442.00 169.90,437.00" fill="#262626"/>
<text x="83.00" y="435.00" font-family="'Liberation Sans', sans-serif" font-size="13.00" fill="#161616" stroke="#161616" stroke-width="0.22" text-anchor="middle">9</text>
<line x1="92.00" y1="431.00" x2="88.20" y2="434.00" stroke="#262626" stroke-width="0.8" />
<polygon points="88.20,434.00 88.30,430.74 91.40,434.66" fill="#262626"/>
<text x="110.70" y="444.70" font-family="'Liberation Sans', sans-serif" font-size="13.00" fill="#161616" stroke="#161616" stroke-width="0.22" text-anchor="middle">1</text>
<text x="81.70" y="458.60" font-family="'Liberation Sans', sans-serif" font-size="12.6" font-weight="normal" text-anchor="start" fill="#1c1c1c" textLength="20.30" lengthAdjust="spacingAndGlyphs" stroke="#161616" stroke-width="0.22">702</text>
<text x="117.00" y="458.60" font-family="'Liberation Sans', sans-serif" font-size="13.00" fill="#161616" stroke="#161616" stroke-width="0.22" text-anchor="middle">6</text>
<text x="125.60" y="458.60" font-family="'Liberation Sans', sans-serif" font-size="13.00" fill="#161616" stroke="#161616" stroke-width="0.22" text-anchor="middle">4</text>
<line x1="94.00" y1="441.50" x2="94.00" y2="446.60" stroke="#262626" stroke-width="0.8" />
<polygon points="94.00,446.60 91.50,444.50 96.50,444.50" fill="#262626"/>
<line x1="117.00" y1="444.00" x2="117.00" y2="450.40" stroke="#262626" stroke-width="0.8" />
<polygon points="117.00,450.40 114.50,448.30 119.50,448.30" fill="#262626"/>
<line x1="124.80" y1="444.00" x2="124.80" y2="450.40" stroke="#262626" stroke-width="0.8" />
<polygon points="124.80,450.40 122.30,448.30 127.30,448.30" fill="#262626"/>
<text x="57.70" y="435.80" font-family="'Liberation Sans', sans-serif" font-size="13.00" fill="#161616" stroke="#161616" stroke-width="0.22" text-anchor="middle">1</text>
<text x="223.00" y="471.90" font-family="'Liberation Sans', sans-serif" font-size="16" font-weight="normal" text-anchor="start" fill="#1c1c1c" textLength="198.50" lengthAdjust="spacingAndGlyphs" stroke="#161616" stroke-width="0.22">PIANTA PIANO INTERRATO</text>
</g>
<g id="primo">
<path d="M566.40 360.00 L566.40 343.70 L591.60 343.70 L591.60 351.60 L639.40 351.60 L639.40 360.00" fill="none" stroke="#262626" stroke-width="0.75" />
<line x1="512.30" y1="360.00" x2="541.20" y2="360.00" stroke="#262626" stroke-width="0.75" />
<path d="M566.40 360.00 L691.00 360.00 L691.00 408.40 L682.00 408.40 L682.00 418.00 L675.00 418.00 L675.00 420.00 L652.60 420.00 L652.60 425.60 L648.00 425.60 L648.00 438.00 L618.60 438.00 L618.60 446.00 L592.60 446.00" fill="none" stroke="#262626" stroke-width="0.75" />
<path d="M681.00 392.40 L691.00 392.40 L691.00 408.40 L681.00 408.40 Z" fill="none" stroke="#262626" stroke-width="0.75" />
<path d="M541.20 352.70 L566.40 352.70 L566.40 369.00 L541.20 369.00 Z" fill="none" stroke="#262626" stroke-width="0.75" />
<path d="M512.30 360.00 L512.30 371.40 L491.70 371.40 L491.70 386.00 L475.00 386.00" fill="none" stroke="#262626" stroke-width="0.75" />
<path d="M491.70 378.00 L475.00 378.00 L475.00 415.30" fill="none" stroke="#262626" stroke-width="0.75" />
<path d="M470.60 415.30 L479.20 415.30 L479.20 432.00 L470.60 432.00 Z" fill="none" stroke="#262626" stroke-width="0.75" />
<path d="M479.20 432.00 L479.20 469.70 L540.40 469.70 L540.40 450.20 L557.50 450.20" fill="none" stroke="#262626" stroke-width="0.75" />
<path d="M521.70 469.70 L521.70 485.20 L547.70 485.20 L547.70 458.40 L557.50 458.40 L557.50 410.80" fill="none" stroke="#262626" stroke-width="0.75" />
<path d="M557.50 410.80 L591.00 410.80 L591.00 429.60" fill="none" stroke="#262626" stroke-width="0.75" />
<path d="M557.50 444.60 L590.00 444.60 L592.60 442.00 L592.60 429.80 L634.60 429.80 L634.60 426.20 L648.00 426.20" fill="none" stroke="#262626" stroke-width="0.75" />
<line x1="557.50" y1="446.00" x2="592.60" y2="446.00" stroke="#262626" stroke-width="0.75" />
<path d="M634.60 429.80 L634.60 431.40 L637.50 431.40" fill="none" stroke="#262626" stroke-width="0.7" />
<line x1="592.60" y1="429.60" x2="592.60" y2="446.00" stroke="#262626" stroke-width="0.75" />
<path d="M569.80 421.70 L583.70 421.70 L583.70 435.70 L569.80 435.70 Z" fill="none" stroke="#262626" stroke-width="0.6" />
<path d="M571.20 423.10 L582.30 423.10 L582.30 434.30 L571.20 434.30 Z" fill="none" stroke="#262626" stroke-width="0.5" />
<line x1="571.20" y1="423.10" x2="582.30" y2="434.30" stroke="#262626" stroke-width="0.5" />
<line x1="582.30" y1="423.10" x2="571.20" y2="434.30" stroke="#262626" stroke-width="0.5" />
<path d="M569.80 437.00 L589.00 437.00 L589.00 444.30 L569.80 444.30 Z" fill="none" stroke="#262626" stroke-width="0.6" />
<line x1="572.20" y1="437.00" x2="572.20" y2="444.30" stroke="#262626" stroke-width="0.6" />
<line x1="574.60" y1="437.00" x2="574.60" y2="444.30" stroke="#262626" stroke-width="0.6" />
<line x1="577.00" y1="437.00" x2="577.00" y2="444.30" stroke="#262626" stroke-width="0.6" />
<line x1="579.40" y1="437.00" x2="579.40" y2="444.30" stroke="#262626" stroke-width="0.6" />
<line x1="581.80" y1="437.00" x2="581.80" y2="444.30" stroke="#262626" stroke-width="0.6" />
<line x1="584.20" y1="437.00" x2="584.20" y2="444.30" stroke="#262626" stroke-width="0.6" />
<line x1="586.60" y1="437.00" x2="586.60" y2="444.30" stroke="#262626" stroke-width="0.6" />
<path d="M584.30 421.70 L591.00 421.70 L591.00 436.20 L584.30 436.20 Z" fill="none" stroke="#262626" stroke-width="0.6" />
<line x1="584.30" y1="424.12" x2="591.00" y2="424.12" stroke="#262626" stroke-width="0.6" />
<line x1="584.30" y1="426.53" x2="591.00" y2="426.53" stroke="#262626" stroke-width="0.6" />
<line x1="584.30" y1="428.95" x2="591.00" y2="428.95" stroke="#262626" stroke-width="0.6" />
<line x1="584.30" y1="431.37" x2="591.00" y2="431.37" stroke="#262626" stroke-width="0.6" />
<line x1="584.30" y1="433.78" x2="591.00" y2="433.78" stroke="#262626" stroke-width="0.6" />
<line x1="575.40" y1="418.60" x2="575.40" y2="425.90" stroke="#262626" stroke-width="0.7" />
<line x1="573.40" y1="420.60" x2="577.40" y2="420.60" stroke="#262626" stroke-width="0.7" />
<path d="M594 359.5 L596 358 L598 359.5 L600 357.8 L603 359.5" fill="none" stroke="#262626" stroke-width="0.6" />
<line x1="562.80" y1="363.60" x2="565.80" y2="363.60" stroke="#262626" stroke-width="0.7" />
<text x="552.00" y="364.60" font-family="'Liberation Sans', sans-serif" font-size="13.00" fill="#161616" stroke="#161616" stroke-width="0.22" text-anchor="middle">7</text>
<text x="582.00" y="355.00" font-family="'Liberation Sans', sans-serif" font-size="13.00" fill="#161616" stroke="#161616" stroke-width="0.22" text-anchor="middle">8</text>
<text x="483.50" y="385.20" font-family="'Liberation Sans', sans-serif" font-size="13.00" fill="#161616" stroke="#161616" stroke-width="0.22" text-anchor="middle">7</text>
<text x="475.00" y="429.00" font-family="'Liberation Sans', sans-serif" font-size="13.00" fill="#161616" stroke="#161616" stroke-width="0.22" text-anchor="middle">6</text>
<text x="535.50" y="482.00" font-family="'Liberation Sans', sans-serif" font-size="13.00" fill="#161616" stroke="#161616" stroke-width="0.22" text-anchor="middle">6</text>
<text x="686.20" y="404.20" font-family="'Liberation Sans', sans-serif" font-size="13.00" fill="#161616" stroke="#161616" stroke-width="0.22" text-anchor="middle">9</text>
<text x="608.00" y="440.50" font-family="'Liberation Sans', sans-serif" font-size="13.00" fill="#161616" stroke="#161616" stroke-width="0.22" text-anchor="middle">9</text>
<text x="562.00" y="406.70" font-family="'Liberation Sans', sans-serif" font-size="13.00" fill="#161616" stroke="#161616" stroke-width="0.22" text-anchor="middle">7</text>
<text x="574.20" y="406.70" font-family="'Liberation Sans', sans-serif" font-size="13.00" fill="#161616" stroke="#161616" stroke-width="0.22" text-anchor="middle">8</text>
<line x1="562.00" y1="415.30" x2="562.00" y2="408.40" stroke="#262626" stroke-width="0.8" />
<polygon points="562.00,408.40 564.50,410.50 559.50,410.50" fill="#262626"/>
<line x1="573.70" y1="413.70" x2="573.70" y2="407.60" stroke="#262626" stroke-width="0.8" />
<polygon points="573.70,407.60 576.20,409.70 571.20,409.70" fill="#262626"/>
<text x="551.00" y="430.00" font-family="'Liberation Sans', sans-serif" font-size="13.00" fill="#161616" stroke="#161616" stroke-width="0.22" text-anchor="middle">6</text>
<line x1="563.20" y1="426.40" x2="555.20" y2="426.40" stroke="#262626" stroke-width="0.8" />
<polygon points="555.20,426.40 557.30,423.90 557.30,428.90" fill="#262626"/>
<text x="566.30" y="422.80" font-family="'Liberation Sans', sans-serif" font-size="13.00" fill="#161616" stroke="#161616" stroke-width="0.22" text-anchor="middle">1</text>
<text x="599.60" y="418.70" font-family="'Liberation Sans', sans-serif" font-size="13.00" fill="#161616" stroke="#161616" stroke-width="0.22" text-anchor="middle">9</text>
<line x1="589.00" y1="415.10" x2="596.00" y2="415.10" stroke="#262626" stroke-width="0.8" />
<polygon points="596.00,415.10 593.90,417.60 593.90,412.60" fill="#262626"/>
<text x="594.00" y="383.60" font-family="'Liberation Sans', sans-serif" font-size="12.6" font-weight="normal" text-anchor="start" fill="#1c1c1c" textLength="60.40" lengthAdjust="spacingAndGlyphs" stroke="#161616" stroke-width="0.22">mapp.4181</text>
<text x="591.25" y="481.70" font-family="'Liberation Sans', sans-serif" font-size="16" font-weight="normal" text-anchor="start" fill="#1c1c1c" textLength="99.75" lengthAdjust="spacingAndGlyphs" stroke="#161616" stroke-width="0.22">PIANO PRIMO</text>
</g>
<g id="secondo">
<path d="M476.00 621.90 L492.40 621.90 L492.40 615.80 L512.50 615.80 L512.50 605.00 L542.30 605.00 L542.30 612.60 L568.40 612.60" fill="none" stroke="#262626" stroke-width="0.75" />
<path d="M492.40 621.90 L492.40 629.80 L476.00 629.80" fill="none" stroke="#262626" stroke-width="0.75" />
<path d="M476.00 621.90 L476.00 659.50" fill="none" stroke="#262626" stroke-width="0.75" />
<path d="M470.5 675.3 L470.5 659.5 L474 659.5 L474 661.5 L477 661.5 L477 659.5 L479.6 659.5 L479.6 675.3 Z" fill="none" stroke="#262626" stroke-width="0.75" />
<path d="M479.60 675.30 L479.60 712.90 L540.70 712.90 L540.70 693.00 L557.40 693.00" fill="none" stroke="#262626" stroke-width="0.75" />
<path d="M522.00 712.90 L522.00 729.50 L547.20 729.50 L547.20 701.60 L557.40 701.60 L557.40 654.30" fill="none" stroke="#262626" stroke-width="0.75" />
<path d="M557.00 654.30 L568.40 654.30 L568.40 606.60 L602.00 606.60 L602.00 604.40 L671.70 604.40 L671.70 601.40 L693.90 601.40 L693.90 655.60 L684.60 655.60 L684.60 664.70 L677.30 664.70 L677.30 666.90 L653.30 666.90 L653.30 669.20 L634.80 669.20 L634.80 673.30 L592.40 673.30" fill="none" stroke="#262626" stroke-width="0.75" />
<path d="M671.70 604.40 L671.70 636.90 L655.40 636.90 L655.40 666.90" fill="none" stroke="#262626" stroke-width="0.75" />
<path d="M602.00 604.40 L602.00 646.00 L592.40 646.00 L592.40 689.00 L620.00 689.00 L620.00 673.00" fill="none" stroke="#262626" stroke-width="0.75" />
<path d="M568.40 652.50 L592.40 652.50" fill="none" stroke="#262626" stroke-width="0.75" />
<path d="M557.00 687.60 L589.50 687.60 L592.40 685.00" fill="none" stroke="#262626" stroke-width="0.75" />
<line x1="557.00" y1="689.20" x2="592.40" y2="689.20" stroke="#262626" stroke-width="0.75" />
<path d="M569.80 665.40 L583.70 665.40 L583.70 679.40 L569.80 679.40 Z" fill="none" stroke="#262626" stroke-width="0.6" />
<path d="M571.20 666.80 L582.30 666.80 L582.30 678.00 L571.20 678.00 Z" fill="none" stroke="#262626" stroke-width="0.5" />
<line x1="571.20" y1="666.80" x2="582.30" y2="678.00" stroke="#262626" stroke-width="0.5" />
<line x1="582.30" y1="666.80" x2="571.20" y2="678.00" stroke="#262626" stroke-width="0.5" />
<path d="M569.80 680.70 L589.00 680.70 L589.00 688.00 L569.80 688.00 Z" fill="none" stroke="#262626" stroke-width="0.6" />
<line x1="572.20" y1="680.70" x2="572.20" y2="688.00" stroke="#262626" stroke-width="0.6" />
<line x1="574.60" y1="680.70" x2="574.60" y2="688.00" stroke="#262626" stroke-width="0.6" />
<line x1="577.00" y1="680.70" x2="577.00" y2="688.00" stroke="#262626" stroke-width="0.6" />
<line x1="579.40" y1="680.70" x2="579.40" y2="688.00" stroke="#262626" stroke-width="0.6" />
<line x1="581.80" y1="680.70" x2="581.80" y2="688.00" stroke="#262626" stroke-width="0.6" />
<line x1="584.20" y1="680.70" x2="584.20" y2="688.00" stroke="#262626" stroke-width="0.6" />
<line x1="586.60" y1="680.70" x2="586.60" y2="688.00" stroke="#262626" stroke-width="0.6" />
<path d="M584.30 665.40 L591.00 665.40 L591.00 680.00 L584.30 680.00 Z" fill="none" stroke="#262626" stroke-width="0.6" />
<line x1="584.30" y1="667.83" x2="591.00" y2="667.83" stroke="#262626" stroke-width="0.6" />
<line x1="584.30" y1="670.27" x2="591.00" y2="670.27" stroke="#262626" stroke-width="0.6" />
<line x1="584.30" y1="672.70" x2="591.00" y2="672.70" stroke="#262626" stroke-width="0.6" />
<line x1="584.30" y1="675.13" x2="591.00" y2="675.13" stroke="#262626" stroke-width="0.6" />
<line x1="584.30" y1="677.57" x2="591.00" y2="677.57" stroke="#262626" stroke-width="0.6" />
<path d="M519.00 636.00 L526.20 636.00 L526.20 647.00 L519.00 647.00 Z" fill="none" stroke="#262626" stroke-width="0.65" />
<line x1="519.00" y1="638.20" x2="526.20" y2="638.20" stroke="#262626" stroke-width="0.65" />
<line x1="519.00" y1="640.40" x2="526.20" y2="640.40" stroke="#262626" stroke-width="0.65" />
<line x1="519.00" y1="642.60" x2="526.20" y2="642.60" stroke="#262626" stroke-width="0.65" />
<line x1="519.00" y1="644.80" x2="526.20" y2="644.80" stroke="#262626" stroke-width="0.65" />
<path d="M513.20 648.00 L526.20 648.00 L526.20 655.40 L513.20 655.40 Z" fill="none" stroke="#262626" stroke-width="0.65" />
<line x1="515.80" y1="648.00" x2="515.80" y2="655.40" stroke="#262626" stroke-width="0.65" />
<line x1="518.40" y1="648.00" x2="518.40" y2="655.40" stroke="#262626" stroke-width="0.65" />
<line x1="521.00" y1="648.00" x2="521.00" y2="655.40" stroke="#262626" stroke-width="0.65" />
<line x1="523.60" y1="648.00" x2="523.60" y2="655.40" stroke="#262626" stroke-width="0.65" />
<path d="M514.6 649.5 L519.5 653.8 L524.4 649.5" fill="none" stroke="#262626" stroke-width="0.6" />
<path d="M518.50 669.30 L525.50 669.30 L525.50 680.40 L518.50 680.40 Z" fill="none" stroke="#262626" stroke-width="0.6" />
<line x1="518.50" y1="671.15" x2="525.50" y2="671.15" stroke="#262626" stroke-width="0.6" />
<line x1="518.50" y1="673.00" x2="525.50" y2="673.00" stroke="#262626" stroke-width="0.6" />
<line x1="518.50" y1="674.85" x2="525.50" y2="674.85" stroke="#262626" stroke-width="0.6" />
<line x1="518.50" y1="676.70" x2="525.50" y2="676.70" stroke="#262626" stroke-width="0.6" />
<line x1="518.50" y1="678.55" x2="525.50" y2="678.55" stroke="#262626" stroke-width="0.6" />
<line x1="522.00" y1="669.30" x2="522.00" y2="680.40" stroke="#262626" stroke-width="0.6" />
<path d="M609.00 627.60 L622.40 627.60 L622.40 634.80 L609.00 634.80 Z" fill="none" stroke="#262626" stroke-width="0.6" />
<line x1="611.23" y1="627.60" x2="611.23" y2="634.80" stroke="#262626" stroke-width="0.6" />
<line x1="613.47" y1="627.60" x2="613.47" y2="634.80" stroke="#262626" stroke-width="0.6" />
<line x1="615.70" y1="627.60" x2="615.70" y2="634.80" stroke="#262626" stroke-width="0.6" />
<line x1="617.93" y1="627.60" x2="617.93" y2="634.80" stroke="#262626" stroke-width="0.6" />
<line x1="620.17" y1="627.60" x2="620.17" y2="634.80" stroke="#262626" stroke-width="0.6" />
<path d="M603.80 621.00 L609.00 621.00 L609.00 634.80 L603.80 634.80 Z" fill="none" stroke="#262626" stroke-width="0.6" />
<path d="M603.8 621 L609 627.5 M609 621 L603.8 627.5" fill="none" stroke="#262626" stroke-width="0.6" />
<line x1="609.00" y1="631.20" x2="622.40" y2="631.20" stroke="#262626" stroke-width="0.55" />
<text x="476.50" y="629.40" font-family="'Liberation Sans', sans-serif" font-size="12.6" font-weight="normal" text-anchor="start" fill="#1c1c1c" textLength="19.00" lengthAdjust="spacingAndGlyphs" stroke="#161616" stroke-width="0.22">702</text>
<text x="503.00" y="641.00" font-family="'Liberation Sans', sans-serif" font-size="12.6" font-weight="normal" text-anchor="start" fill="#1c1c1c" textLength="18.50" lengthAdjust="spacingAndGlyphs" stroke="#161616" stroke-width="0.22">702</text>
<text x="512.50" y="627.00" font-family="'Liberation Sans', sans-serif" font-size="12.6" font-weight="normal" text-anchor="start" fill="#1c1c1c" textLength="53.50" lengthAdjust="spacingAndGlyphs" stroke="#161616" stroke-width="0.22">mapp.4181</text>
<text x="552.00" y="648.00" font-family="'Liberation Sans', sans-serif" font-size="12.6" font-weight="normal" text-anchor="start" fill="#1c1c1c" textLength="18.00" lengthAdjust="spacingAndGlyphs" stroke="#161616" stroke-width="0.22">702</text>
<line x1="562.40" y1="660.40" x2="562.40" y2="651.80" stroke="#262626" stroke-width="0.8" />
<polygon points="562.40,651.80 564.90,653.90 559.90,653.90" fill="#262626"/>
<text x="577.30" y="633.60" font-family="'Liberation Sans', sans-serif" font-size="12.6" font-weight="normal" text-anchor="start" fill="#1c1c1c" textLength="19.20" lengthAdjust="spacingAndGlyphs" stroke="#161616" stroke-width="0.22">702</text>
<line x1="568.40" y1="622.00" x2="568.40" y2="613.50" stroke="#262626" stroke-width="0.8" />
<polygon points="568.40,613.50 570.90,615.60 565.90,615.60" fill="#262626"/>
<text x="612.30" y="627.60" font-family="'Liberation Sans', sans-serif" font-size="12.6" font-weight="normal" text-anchor="start" fill="#1c1c1c" textLength="11.60" lengthAdjust="spacingAndGlyphs" stroke="#161616" stroke-width="0.22">12</text>
<text x="542.30" y="674.40" font-family="'Liberation Sans', sans-serif" font-size="12.6" font-weight="normal" text-anchor="start" fill="#1c1c1c" textLength="12.20" lengthAdjust="spacingAndGlyphs" stroke="#161616" stroke-width="0.22">10</text>
<line x1="554.50" y1="670.50" x2="564.00" y2="670.50" stroke="#262626" stroke-width="0.8" />
<text x="575.90" y="663.40" font-family="'Liberation Sans', sans-serif" font-size="13.00" fill="#161616" stroke="#161616" stroke-width="0.22" text-anchor="middle">1</text>
<line x1="586.00" y1="658.50" x2="596.80" y2="658.50" stroke="#262626" stroke-width="0.8" />
<polygon points="596.80,658.50 594.70,661.00 594.70,656.00" fill="#262626"/>
<text x="599.40" y="661.60" font-family="'Liberation Sans', sans-serif" font-size="12.6" font-weight="normal" text-anchor="start" fill="#1c1c1c" textLength="12.20" lengthAdjust="spacingAndGlyphs" stroke="#161616" stroke-width="0.22">12</text>
<text x="601.00" y="683.60" font-family="'Liberation Sans', sans-serif" font-size="12.6" font-weight="normal" text-anchor="start" fill="#1c1c1c" textLength="12.40" lengthAdjust="spacingAndGlyphs" stroke="#161616" stroke-width="0.22">12</text>
<line x1="594.00" y1="679.00" x2="596.80" y2="679.00" stroke="#262626" stroke-width="0.8" />
<text x="666.80" y="653.00" font-family="'Liberation Sans', sans-serif" font-size="12.6" font-weight="normal" text-anchor="start" fill="#1c1c1c" textLength="12.20" lengthAdjust="spacingAndGlyphs" stroke="#161616" stroke-width="0.22">12</text>
<text x="470.90" y="674.60" font-family="'Liberation Sans', sans-serif" font-size="12.6" font-weight="normal" text-anchor="start" fill="#1c1c1c" textLength="9.60" lengthAdjust="spacingAndGlyphs" stroke="#161616" stroke-width="0.22">10</text>
<text x="531.00" y="724.50" font-family="'Liberation Sans', sans-serif" font-size="12.6" font-weight="normal" text-anchor="start" fill="#1c1c1c" textLength="12.00" lengthAdjust="spacingAndGlyphs" stroke="#161616" stroke-width="0.22">10</text>
<text x="566.60" y="727.00" font-family="'Liberation Sans', sans-serif" font-size="16" font-weight="normal" text-anchor="start" fill="#1c1c1c" textLength="128.00" lengthAdjust="spacingAndGlyphs" stroke="#161616" stroke-width="0.22">PIANO SECONDO</text>
</g>
<g id="terra">
<path d="M31.25 906.00 L47.50 631.60 L147.00 633.70 L424.25 633.60 L424.25 737.00" fill="none" stroke="#262626" stroke-width="0.75" />
<path d="M37.20 832.00 L49.30 633.60 L147.00 635.90 L424.25 635.80" fill="none" stroke="#262626" stroke-width="0.75" />
<line x1="108.80" y1="634.00" x2="119.80" y2="634.30" stroke="#b0b0b0" stroke-width="1.8" />
<line x1="175.90" y1="635.00" x2="175.90" y2="670.00" stroke="#262626" stroke-width="0.75" />
<line x1="254.60" y1="635.80" x2="254.60" y2="669.30" stroke="#262626" stroke-width="0.75" />
<line x1="339.90" y1="636.00" x2="339.90" y2="678.50" stroke="#262626" stroke-width="0.75" />
<path d="M175.40 669.00 L175.40 652.70 L200.60 652.70 L200.60 660.60 L248.40 660.60 L248.40 669.00" fill="none" stroke="#262626" stroke-width="0.75" />
<line x1="121.30" y1="669.00" x2="150.20" y2="669.00" stroke="#262626" stroke-width="0.75" />
<path d="M175.40 669.00 L300.00 669.00 L300.00 723.50 L290.40 723.50 L290.40 727.80 L283.60 727.80 L283.60 729.40 L262.30 729.40 L262.30 734.60 L256.40 734.60 L256.40 746.60 L228.40 746.60 L228.40 754.60 L201.60 754.60" fill="none" stroke="#262626" stroke-width="0.75" />
<path d="M290.40 702.00 L300.00 702.00 L300.00 723.50 L290.40 723.50 Z" fill="none" stroke="#262626" stroke-width="0.75" />
<path d="M150.20 661.70 L175.60 661.70 L175.60 677.80 L150.20 677.80 Z" fill="none" stroke="#262626" stroke-width="0.75" />
<path d="M121.30 669.00 L121.30 680.20 L100.20 680.20 L100.20 695.60 L82.50 695.60" fill="none" stroke="#262626" stroke-width="0.75" />
<path d="M100.20 686.60 L82.50 686.60 L82.50 724.00" fill="none" stroke="#262626" stroke-width="0.75" />
<line x1="44.20" y1="724.00" x2="82.50" y2="724.00" stroke="#262626" stroke-width="0.75" />
<path d="M78.10 724.00 L87.40 724.00 L87.40 740.25 L78.10 740.25 Z" fill="none" stroke="#262626" stroke-width="0.75" />
<path d="M87.40 740.25 L87.40 778.40 L149.20 778.40 L149.20 759.00 L166.25 759.00" fill="none" stroke="#262626" stroke-width="0.75" />
<path d="M130.00 778.40 L130.00 794.00 L156.30 794.00 L156.30 767.40 L166.25 767.40" fill="none" stroke="#262626" stroke-width="0.75" />
<path d="M166.25 795.20 L166.25 721.40 L175.90 721.40 L175.90 719.00 L200.40 719.00 L200.40 738.40" fill="none" stroke="#262626" stroke-width="0.75" />
<path d="M166.25 753.40 L199.00 753.40 L202.10 750.50 L202.10 784.40" fill="none" stroke="#262626" stroke-width="0.75" />
<line x1="166.25" y1="754.90" x2="202.10" y2="754.90" stroke="#262626" stroke-width="0.75" />
<path d="M202.10 738.40 L244.10 738.40 L244.10 735.00 L256.40 735.00" fill="none" stroke="#262626" stroke-width="0.75" />
<path d="M244.10 738.40 L244.10 741.00 L246.80 741.00" fill="none" stroke="#262626" stroke-width="0.7" />
<path d="M178.60 730.70 L192.50 730.70 L192.50 744.70 L178.60 744.70 Z" fill="none" stroke="#262626" stroke-width="0.6" />
<path d="M180.00 732.10 L191.10 732.10 L191.10 743.30 L180.00 743.30 Z" fill="none" stroke="#262626" stroke-width="0.5" />
<line x1="180.00" y1="732.10" x2="191.10" y2="743.30" stroke="#262626" stroke-width="0.5" />
<line x1="191.10" y1="732.10" x2="180.00" y2="743.30" stroke="#262626" stroke-width="0.5" />
<path d="M178.60 746.00 L197.80 746.00 L197.80 753.20 L178.60 753.20 Z" fill="none" stroke="#262626" stroke-width="0.6" />
<line x1="181.00" y1="746.00" x2="181.00" y2="753.20" stroke="#262626" stroke-width="0.6" />
<line x1="183.40" y1="746.00" x2="183.40" y2="753.20" stroke="#262626" stroke-width="0.6" />
<line x1="185.80" y1="746.00" x2="185.80" y2="753.20" stroke="#262626" stroke-width="0.6" />
<line x1="188.20" y1="746.00" x2="188.20" y2="753.20" stroke="#262626" stroke-width="0.6" />
<line x1="190.60" y1="746.00" x2="190.60" y2="753.20" stroke="#262626" stroke-width="0.6" />
<line x1="193.00" y1="746.00" x2="193.00" y2="753.20" stroke="#262626" stroke-width="0.6" />
<line x1="195.40" y1="746.00" x2="195.40" y2="753.20" stroke="#262626" stroke-width="0.6" />
<path d="M193.10 730.70 L199.80 730.70 L199.80 745.20 L193.10 745.20 Z" fill="none" stroke="#262626" stroke-width="0.6" />
<line x1="193.10" y1="733.12" x2="199.80" y2="733.12" stroke="#262626" stroke-width="0.6" />
<line x1="193.10" y1="735.53" x2="199.80" y2="735.53" stroke="#262626" stroke-width="0.6" />
<line x1="193.10" y1="737.95" x2="199.80" y2="737.95" stroke="#262626" stroke-width="0.6" />
<line x1="193.10" y1="740.37" x2="199.80" y2="740.37" stroke="#262626" stroke-width="0.6" />
<line x1="193.10" y1="742.78" x2="199.80" y2="742.78" stroke="#262626" stroke-width="0.6" />
<line x1="184.50" y1="727.50" x2="184.50" y2="735.00" stroke="#262626" stroke-width="0.7" />
<path d="M204 669 L204 666.5 L206 666.5 L206 669 M208 666 L208 669 L212.6 669 Q212.6 666.5 210 667" fill="none" stroke="#262626" stroke-width="0.6" />
<line x1="171.50" y1="672.40" x2="175.00" y2="672.40" stroke="#262626" stroke-width="0.7" />
<path d="M58.5 724 L58.5 752 C59 770, 68 783, 79.5 792.25 L120.75 820" fill="none" stroke="#262626" stroke-width="0.75" />
<path d="M74.9 724 L74.9 757 C75.6 766, 81.5 774, 90 780.25 L132.75 808.75" fill="none" stroke="#262626" stroke-width="0.75" />
<path d="M76.5 724 L76.5 756.5 C77.2 765, 83 772.6, 91.2 778.8 L134 807.3" fill="none" stroke="#262626" stroke-width="0.75" />
<path d="M40.5 778.5 Q47 789 60 798.25 L116.5 834" fill="none" stroke="#262626" stroke-width="0.75" />
<path d="M41.8 777 Q48 787.5 61 796.8 L117.6 832.6" fill="none" stroke="#262626" stroke-width="0.75" />
<path d="M38.90 798.40 L59.75 798.90" fill="none" stroke="#262626" stroke-width="0.75" />
<path d="M424.25 710 Q423 716.5 406.25 720.5 L166 795.8 C145 802, 125 812, 115.7 834 L87.5 922.9" fill="none" stroke="#262626" stroke-width="0.75" />
<line x1="116.75" y1="834.50" x2="174.10" y2="835.00" stroke="#262626" stroke-width="0.75" />
<path d="M340.60 645.90 L349.60 645.90 L349.60 678.00 L340.60 678.00 Z" fill="none" stroke="#262626" stroke-width="0.5" />
<line x1="340.60" y1="648.37" x2="349.60" y2="648.37" stroke="#262626" stroke-width="0.5" />
<line x1="340.60" y1="650.84" x2="349.60" y2="650.84" stroke="#262626" stroke-width="0.5" />
<line x1="340.60" y1="653.31" x2="349.60" y2="653.31" stroke="#262626" stroke-width="0.5" />
<line x1="340.60" y1="655.78" x2="349.60" y2="655.78" stroke="#262626" stroke-width="0.5" />
<line x1="340.60" y1="658.25" x2="349.60" y2="658.25" stroke="#262626" stroke-width="0.5" />
<line x1="340.60" y1="660.72" x2="349.60" y2="660.72" stroke="#262626" stroke-width="0.5" />
<line x1="340.60" y1="663.18" x2="349.60" y2="663.18" stroke="#262626" stroke-width="0.5" />
<line x1="340.60" y1="665.65" x2="349.60" y2="665.65" stroke="#262626" stroke-width="0.5" />
<line x1="340.60" y1="668.12" x2="349.60" y2="668.12" stroke="#262626" stroke-width="0.5" />
<line x1="340.60" y1="670.59" x2="349.60" y2="670.59" stroke="#262626" stroke-width="0.5" />
<line x1="340.60" y1="673.06" x2="349.60" y2="673.06" stroke="#262626" stroke-width="0.5" />
<line x1="340.60" y1="675.53" x2="349.60" y2="675.53" stroke="#262626" stroke-width="0.5" />
<path d="M339.90 678.50 L350.00 678.50" fill="none" stroke="#262626" stroke-width="0.75" />
<path d="M350.00 679.20 L332.50 679.20 L332.50 743.60" fill="none" stroke="#262626" stroke-width="0.75" />
<line x1="334.70" y1="679.20" x2="334.70" y2="743.00" stroke="#262626" stroke-width="0.75" />
<line x1="345.20" y1="647.00" x2="345.20" y2="677.00" stroke="#262626" stroke-width="0.6" />
<line x1="350.00" y1="645.90" x2="423.50" y2="645.90" stroke="#262626" stroke-width="0.8" stroke-dasharray="1.9 1.3"/>
<line x1="350.00" y1="662.30" x2="423.50" y2="662.30" stroke="#262626" stroke-width="0.8" stroke-dasharray="1.9 1.3"/>
<line x1="350.00" y1="679.20" x2="423.50" y2="679.20" stroke="#262626" stroke-width="0.8" stroke-dasharray="1.9 1.3"/>
<line x1="352.25" y1="679.20" x2="352.25" y2="737.40" stroke="#262626" stroke-width="0.8" stroke-dasharray="1.9 1.3"/>
<line x1="388.25" y1="679.20" x2="388.25" y2="725.60" stroke="#262626" stroke-width="0.8" stroke-dasharray="1.9 1.3"/>
<text x="79.90" y="658.90" font-family="'Liberation Sans', sans-serif" font-size="13.00" fill="#161616" stroke="#161616" stroke-width="0.22" text-anchor="middle">3</text>
<text x="93.00" y="694.00" font-family="'Liberation Sans', sans-serif" font-size="13.00" fill="#161616" stroke="#161616" stroke-width="0.22" text-anchor="middle">3</text>
<text x="162.40" y="673.00" font-family="'Liberation Sans', sans-serif" font-size="13.00" fill="#161616" stroke="#161616" stroke-width="0.22" text-anchor="middle">3</text>
<text x="220.00" y="651.50" font-family="'Liberation Sans', sans-serif" font-size="13.00" fill="#161616" stroke="#161616" stroke-width="0.22" text-anchor="middle">4</text>
<text x="192.00" y="665.50" font-family="'Liberation Sans', sans-serif" font-size="13.00" fill="#161616" stroke="#161616" stroke-width="0.22" text-anchor="middle">4</text>
<text x="297.10" y="653.75" font-family="'Liberation Sans', sans-serif" font-size="13.00" fill="#161616" stroke="#161616" stroke-width="0.22" text-anchor="middle">5</text>
<text x="295.30" y="716.80" font-family="'Liberation Sans', sans-serif" font-size="13.00" fill="#161616" stroke="#161616" stroke-width="0.22" text-anchor="middle">5</text>
<text x="284.00" y="747.80" font-family="'Liberation Sans', sans-serif" font-size="13.00" fill="#161616" stroke="#161616" stroke-width="0.22" text-anchor="middle">5</text>
<text x="217.90" y="749.40" font-family="'Liberation Sans', sans-serif" font-size="13.00" fill="#161616" stroke="#161616" stroke-width="0.22" text-anchor="middle">5</text>
<text x="195.65" y="693.15" font-family="'Liberation Sans', sans-serif" font-size="12.6" font-weight="normal" text-anchor="start" fill="#1c1c1c" textLength="60.80" lengthAdjust="spacingAndGlyphs" stroke="#161616" stroke-width="0.22">mapp.4181</text>
<text x="171.85" y="715.40" font-family="'Liberation Sans', sans-serif" font-size="13.00" fill="#161616" stroke="#161616" stroke-width="0.22" text-anchor="middle">3</text>
<text x="182.90" y="715.40" font-family="'Liberation Sans', sans-serif" font-size="13.00" fill="#161616" stroke="#161616" stroke-width="0.22" text-anchor="middle">4</text>
<line x1="170.10" y1="723.00" x2="170.10" y2="717.00" stroke="#262626" stroke-width="0.8" />
<polygon points="170.10,717.00 172.60,719.10 167.60,719.10" fill="#262626"/>
<line x1="182.00" y1="721.50" x2="182.00" y2="716.00" stroke="#262626" stroke-width="0.8" />
<polygon points="182.00,716.00 184.50,718.10 179.50,718.10" fill="#262626"/>
<line x1="197.75" y1="724.50" x2="203.90" y2="724.50" stroke="#262626" stroke-width="0.8" />
<polygon points="203.90,724.50 201.80,727.00 201.80,722.00" fill="#262626"/>
<text x="208.60" y="728.40" font-family="'Liberation Sans', sans-serif" font-size="13.00" fill="#161616" stroke="#161616" stroke-width="0.22" text-anchor="middle">5</text>
<text x="145.25" y="738.40" font-family="'Liberation Sans', sans-serif" font-size="12.6" font-weight="normal" text-anchor="start" fill="#1c1c1c" textLength="17.50" lengthAdjust="spacingAndGlyphs" stroke="#161616" stroke-width="0.22">701</text>
<line x1="162.75" y1="734.60" x2="168.40" y2="734.60" stroke="#262626" stroke-width="0.8" />
<polygon points="168.40,734.60 166.30,737.10 166.30,732.10" fill="#262626"/>
<text x="174.80" y="729.00" font-family="'Liberation Sans', sans-serif" font-size="13.00" fill="#161616" stroke="#161616" stroke-width="0.22" text-anchor="middle">1</text>
<text x="89.50" y="731.70" font-family="'Liberation Sans', sans-serif" font-size="12.6" font-weight="normal" text-anchor="start" fill="#1c1c1c" textLength="18.40" lengthAdjust="spacingAndGlyphs" stroke="#161616" stroke-width="0.22">701</text>
<text x="89.50" y="753.50" font-family="'Liberation Sans', sans-serif" font-size="12.6" font-weight="normal" text-anchor="start" fill="#1c1c1c" textLength="18.40" lengthAdjust="spacingAndGlyphs" stroke="#161616" stroke-width="0.22">701</text>
<line x1="84.25" y1="737.60" x2="93.90" y2="732.40" stroke="#262626" stroke-width="0.7" />
<line x1="84.25" y1="759.50" x2="95.60" y2="753.40" stroke="#262626" stroke-width="0.7" />
<line x1="83.50" y1="729.50" x2="85.50" y2="729.50" stroke="#262626" stroke-width="0.7" />
<text x="109.60" y="789.30" font-family="'Liberation Sans', sans-serif" font-size="12.6" font-weight="normal" text-anchor="start" fill="#1c1c1c" textLength="17.50" lengthAdjust="spacingAndGlyphs" stroke="#161616" stroke-width="0.22">701</text>
<text x="135.90" y="789.30" font-family="'Liberation Sans', sans-serif" font-size="12.6" font-weight="normal" text-anchor="start" fill="#1c1c1c" textLength="18.30" lengthAdjust="spacingAndGlyphs" stroke="#161616" stroke-width="0.22">701</text>
<text x="174.65" y="783.80" font-family="'Liberation Sans', sans-serif" font-size="13.00" fill="#161616" stroke="#161616" stroke-width="0.22" text-anchor="middle">1</text>
<line x1="174.10" y1="795.50" x2="174.10" y2="790.00" stroke="#262626" stroke-width="0.8" />
<polygon points="174.10,790.00 176.60,792.10 171.60,792.10" fill="#262626"/>
<text x="45.40" y="796.20" font-family="'Liberation Sans', sans-serif" font-size="13.00" fill="#161616" stroke="#161616" stroke-width="0.22" text-anchor="middle">1</text>
<text x="120.70" y="814.60" font-family="'Liberation Sans', sans-serif" font-size="13.00" fill="#161616" stroke="#161616" stroke-width="0.22" text-anchor="middle">1</text>
<text x="45.75" y="833.40" font-family="'Liberation Sans', sans-serif" font-size="12.6" font-weight="normal" text-anchor="start" fill="#1c1c1c" textLength="61.50" lengthAdjust="spacingAndGlyphs" stroke="#161616" stroke-width="0.22">mapp.4183</text>
<text x="130.90" y="892.50" font-family="'Liberation Sans', sans-serif" font-size="12.6" font-weight="normal" text-anchor="start" fill="#1c1c1c" textLength="62.30" lengthAdjust="spacingAndGlyphs" stroke="#161616" stroke-width="0.22">mapp.4184</text>
<text x="252.50" y="790.00" font-family="'Liberation Sans', sans-serif" font-size="12.6" font-weight="normal" text-anchor="start" fill="#1c1c1c" textLength="61.25" lengthAdjust="spacingAndGlyphs" stroke="#161616" stroke-width="0.22">mapp.4182</text>
<text x="387.10" y="643.80" font-family="'Liberation Sans', sans-serif" font-size="13.00" fill="#161616" stroke="#161616" stroke-width="0.22" text-anchor="middle">1</text>
<text x="388.25" y="656.40" font-family="'Liberation Sans', sans-serif" font-size="13.00" fill="#161616" stroke="#161616" stroke-width="0.22" text-anchor="middle">36</text>
<text x="387.80" y="674.70" font-family="'Liberation Sans', sans-serif" font-size="13.00" fill="#161616" stroke="#161616" stroke-width="0.22" text-anchor="middle">37</text>
<text x="409.00" y="713.40" font-family="'Liberation Sans', sans-serif" font-size="13.00" fill="#161616" stroke="#161616" stroke-width="0.22" text-anchor="middle">38</text>
<text x="372.50" y="724.60" font-family="'Liberation Sans', sans-serif" font-size="13.00" fill="#161616" stroke="#161616" stroke-width="0.22" text-anchor="middle">39</text>
<text x="344.40" y="733.00" font-family="'Liberation Sans', sans-serif" font-size="13.00" fill="#161616" stroke="#161616" stroke-width="0.22" text-anchor="middle">40</text>
<line x1="427.80" y1="640.25" x2="419.60" y2="640.25" stroke="#262626" stroke-width="0.8" />
<polygon points="419.60,640.25 421.70,637.75 421.70,642.75" fill="#262626"/>
<line x1="427.80" y1="652.60" x2="419.60" y2="652.60" stroke="#262626" stroke-width="0.8" />
<polygon points="419.60,652.60 421.70,650.10 421.70,655.10" fill="#262626"/>
<line x1="427.80" y1="671.30" x2="419.60" y2="671.30" stroke="#262626" stroke-width="0.8" />
<polygon points="419.60,671.30 421.70,668.80 421.70,673.80" fill="#262626"/>
<line x1="342.10" y1="743.75" x2="342.10" y2="737.00" stroke="#262626" stroke-width="0.8" />
<polygon points="342.10,737.00 344.60,739.10 339.60,739.10" fill="#262626"/>
<line x1="370.90" y1="734.30" x2="370.90" y2="728.50" stroke="#262626" stroke-width="0.8" />
<polygon points="370.90,728.50 373.40,730.60 368.40,730.60" fill="#262626"/>
<line x1="407.40" y1="723.50" x2="407.40" y2="717.20" stroke="#262626" stroke-width="0.8" />
<polygon points="407.40,717.20 409.90,719.30 404.90,719.30" fill="#262626"/>
<text x="243.00" y="849.50" font-family="'Liberation Sans', sans-serif" font-size="16" font-weight="normal" text-anchor="start" fill="#1c1c1c" textLength="102.40" lengthAdjust="spacingAndGlyphs" stroke="#161616" stroke-width="0.22">PIANO TERRA</text>
</g>
<g id="terzo">
<path d="M474.50 958.30 L474.50 874.80 L491.00 874.80 L491.00 859.50 L512.30 859.50 L512.30 849.00 L541.40 849.00 L541.40 855.90 L567.60 855.90 L567.60 896.50 L591.60 896.50 L591.60 889.90 L600.40 889.90 L600.40 848.40 L672.10 848.40 L672.10 881.10 L654.60 881.10 L654.60 908.60 L652.00 908.60 L652.00 913.00 L634.50 913.00 L634.50 918.40 L593.00 918.40 L593.00 929.50 L589.60 929.50 L589.60 933.90 L557.25 933.90 L557.25 938.40 L539.50 938.40 L539.50 958.30 Z" fill="none" stroke="#262626" stroke-width="0.75" />
<path d="M511.70 884.00 L524.30 884.00 L524.30 900.75 L511.70 900.75 Z" fill="none" stroke="#262626" stroke-width="0.45" />
<line x1="511.70" y1="885.86" x2="524.30" y2="885.86" stroke="#262626" stroke-width="0.45" />
<line x1="511.70" y1="887.72" x2="524.30" y2="887.72" stroke="#262626" stroke-width="0.45" />
<line x1="511.70" y1="889.58" x2="524.30" y2="889.58" stroke="#262626" stroke-width="0.45" />
<line x1="511.70" y1="891.44" x2="524.30" y2="891.44" stroke="#262626" stroke-width="0.45" />
<line x1="511.70" y1="893.31" x2="524.30" y2="893.31" stroke="#262626" stroke-width="0.45" />
<line x1="511.70" y1="895.17" x2="524.30" y2="895.17" stroke="#262626" stroke-width="0.45" />
<line x1="511.70" y1="897.03" x2="524.30" y2="897.03" stroke="#262626" stroke-width="0.45" />
<line x1="511.70" y1="898.89" x2="524.30" y2="898.89" stroke="#262626" stroke-width="0.45" />
<line x1="514.20" y1="884.00" x2="514.20" y2="897.00" stroke="#262626" stroke-width="0.45" />
<line x1="516.70" y1="884.00" x2="516.70" y2="897.00" stroke="#262626" stroke-width="0.45" />
<line x1="519.30" y1="884.00" x2="519.30" y2="897.00" stroke="#262626" stroke-width="0.45" />
<line x1="521.80" y1="884.00" x2="521.80" y2="897.00" stroke="#262626" stroke-width="0.45" />
<path d="M512.7 897.5 L518 899.6 L523.3 897.5" fill="none" stroke="#262626" stroke-width="0.5" />
<path d="M511.30 906.00 L525.50 906.00 L525.50 924.00 L511.30 924.00 Z" fill="none" stroke="#262626" stroke-width="0.5" />
<path d="M511.3 906 L516 910 L520.8 910 L525.5 906 M516 910 L516 924 M520.8 910 L520.8 924 M518.4 912 L518.4 924" fill="none" stroke="#262626" stroke-width="0.45" />
<line x1="511.30" y1="912.00" x2="525.50" y2="912.00" stroke="#262626" stroke-width="0.45" />
<line x1="511.30" y1="914.00" x2="525.50" y2="914.00" stroke="#262626" stroke-width="0.45" />
<line x1="511.30" y1="916.00" x2="525.50" y2="916.00" stroke="#262626" stroke-width="0.45" />
<line x1="511.30" y1="918.00" x2="525.50" y2="918.00" stroke="#262626" stroke-width="0.45" />
<line x1="511.30" y1="920.00" x2="525.50" y2="920.00" stroke="#262626" stroke-width="0.45" />
<line x1="511.30" y1="922.00" x2="525.50" y2="922.00" stroke="#262626" stroke-width="0.45" />
<path d="M609.00 865.50 L620.60 865.50 L620.60 879.40 L609.00 879.40 Z" fill="none" stroke="#262626" stroke-width="0.45" />
<line x1="611.32" y1="865.50" x2="611.32" y2="879.40" stroke="#262626" stroke-width="0.45" />
<line x1="613.64" y1="865.50" x2="613.64" y2="879.40" stroke="#262626" stroke-width="0.45" />
<line x1="615.96" y1="865.50" x2="615.96" y2="879.40" stroke="#262626" stroke-width="0.45" />
<line x1="618.28" y1="865.50" x2="618.28" y2="879.40" stroke="#262626" stroke-width="0.45" />
<path d="M602.20 865.50 L609.00 865.50 L609.00 879.40 L602.20 879.40 Z" fill="none" stroke="#262626" stroke-width="0.5" />
<path d="M602.2 865.5 L609 872.4 L602.2 879.4" fill="none" stroke="#262626" stroke-width="0.5" />
<line x1="609.00" y1="868.80" x2="620.60" y2="868.80" stroke="#262626" stroke-width="0.45" />
<line x1="609.00" y1="872.40" x2="620.60" y2="872.40" stroke="#262626" stroke-width="0.45" />
<line x1="609.00" y1="876.00" x2="620.60" y2="876.00" stroke="#262626" stroke-width="0.45" />
<text x="509.75" y="877.50" font-family="'Liberation Sans', sans-serif" font-size="12.6" font-weight="normal" text-anchor="start" fill="#1c1c1c" textLength="19.50" lengthAdjust="spacingAndGlyphs" stroke="#161616" stroke-width="0.22">702</text>
<text x="626.00" y="874.60" font-family="'Liberation Sans', sans-serif" font-size="12.6" font-weight="normal" text-anchor="start" fill="#1c1c1c" textLength="12.00" lengthAdjust="spacingAndGlyphs" stroke="#161616" stroke-width="0.22">12</text>
<text x="515.00" y="936.00" font-family="'Liberation Sans', sans-serif" font-size="12.6" font-weight="normal" text-anchor="start" fill="#1c1c1c" textLength="12.20" lengthAdjust="spacingAndGlyphs" stroke="#161616" stroke-width="0.22">10</text>
<text x="560.50" y="911.00" font-family="'Liberation Sans', sans-serif" font-size="12.6" font-weight="normal" text-anchor="start" fill="#1c1c1c" textLength="60.00" lengthAdjust="spacingAndGlyphs" stroke="#161616" stroke-width="0.22">mapp.4181</text>
<text x="540.60" y="982.30" font-family="'Liberation Sans', sans-serif" font-size="16" font-weight="normal" text-anchor="start" fill="#1c1c1c" textLength="103.20" lengthAdjust="spacingAndGlyphs" stroke="#161616" stroke-width="0.22">PIANO TERZO</text>
</g>
</svg>
</body></html>
